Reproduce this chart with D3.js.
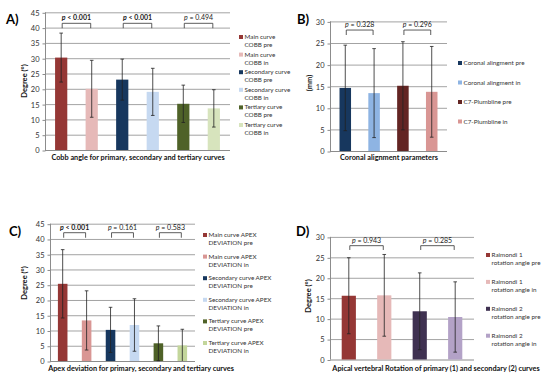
<!DOCTYPE html>
<html>
<head>
<meta charset="utf-8">
<script src="https://cdn.jsdelivr.net/npm/d3@7"></script>
<style>
  body { margin: 0; background: #fff; }
  svg { display: block; font-family: Lato, "Open Sans", sans-serif; }
</style>
</head>
<body>
<div id="chart"></div>
<script>
// ---- data ----
var cobbLegend = [["Main curve", "COBB pre"], ["Main curve", "COBB in"], ["Secondary curve", "COBB pre"],
  ["Secondary curve", "COBB in"], ["Tertiary curve", "COBB pre"], ["Tertiary curve", "COBB in"]];
var cobbMean = [30.2, 20.0, 23.0, 19.0, 15.1, 13.6];
var cobbSD = [8.0, 9.3, 6.7, 7.7, 6.1, 6.1];
var cobbP = ["< 0.001", "< 0.001", "= 0.494"];
var cobbPBold = [true, true, false];

var coronalLegend = [["Coronal alingment pre"], ["Coronal alingment in"], ["C7-Plumbline pre"], ["C7-Plumbline in"]];
var coronalMean = [14.6, 13.4, 15.1, 13.7];
var coronalSD = [9.9, 10.3, 10.2, 10.5];
var coronalP = ["= 0.328", "= 0.296"];
var coronalPBold = [false, false];

var apexLegend = [["Main curve APEX", "DEVIATION pre"], ["Main curve APEX", "DEVIATION in"],
  ["Secondary curve APEX", "DEVIATION pre"], ["Secondary curve APEX", "DEVIATION in"],
  ["Tertiary curve APEX", "DEVIATION pre"], ["Tertiary curve APEX", "DEVIATION in"]];
var apexMean = [25.3, 13.3, 10.2, 11.8, 5.8, 5.1];
var apexSD = [11.2, 9.7, 7.4, 8.6, 5.7, 5.3];
var apexP = ["< 0.001", "= 0.161", "= 0.583"];
var apexPBold = [true, false, false];

var raimondiLegend = [["Raimondi 1", "rotation angle pre"], ["Raimondi 1", "rotation angle in"],
  ["Raimondi 2", "rotation angle pre"], ["Raimondi 2", "rotation angle in"]];
var raimondiMean = [15.6, 15.7, 11.8, 10.4];
var raimondiSD = [9.3, 10.0, 9.4, 8.6];
var raimondiP = ["= 0.943", "= 0.285"];
var raimondiPBold = [false, false];

var ticks45 = d3.range(0, 46, 5);
var ticks30 = d3.range(0, 31, 5);

var svg = d3.select("#chart").append("svg")
  .attr("width", 550)
  .attr("height", 376);

function drawPanel(p) {
  var g = svg.append("g");
  var n = p.mean.length;

  var x = d3.scaleBand()
    .domain(d3.range(n))
    .range([p.x0, p.x1])
    .paddingInner(0.6)
    .paddingOuter(0.33);

  var y = d3.scaleLinear()
    .domain([0, p.max])
    .range([p.y0, p.y1]);

  // gridlines
  g.selectAll(".grid")
    .data(p.ticks.slice(1))
    .join("line")
    .attr("x1", p.x0)
    .attr("x2", p.x1)
    .attr("y1", d => y(d) + 0.5)
    .attr("y2", d => y(d) + 0.5)
    .attr("stroke", "#8c8c8c")
    .attr("stroke-width", 0.8);

  // y axis
  var yAxis = d3.axisLeft(y).tickValues(p.ticks).tickSize(3).tickPadding(3);
  var ax = g.append("g")
    .attr("transform", "translate(" + (p.x0 + 0.5) + ",0.5)")
    .call(yAxis);
  ax.select(".domain").attr("stroke", "#8c8c8c").attr("d", "M0," + (p.y0 - 0.5) + "V" + (p.y1 - 0.5));
  ax.selectAll(".tick line").attr("stroke", "#8c8c8c");
  ax.selectAll(".tick text").attr("font-size", 7.5).attr("fill", "#333").attr("font-family", "Lato");

  // x axis baseline
  g.append("line")
    .attr("x1", p.x0).attr("x2", p.x1)
    .attr("y1", p.y0 + 0.5).attr("y2", p.y0 + 0.5)
    .attr("stroke", "#8c8c8c");

  // bars
  g.selectAll(".bar")
    .data(p.mean)
    .join("rect")
    .attr("x", (d, i) => x(i))
    .attr("width", x.bandwidth())
    .attr("y", d => y(d))
    .attr("height", d => y(0) - y(d))
    .attr("fill", (d, i) => p.colors[i]);

  // error bars
  var eb = g.selectAll(".err")
    .data(p.mean)
    .join("g")
    .attr("stroke", "#222")
    .attr("stroke-width", 0.8);
  var cx = i => x(i) + x.bandwidth() / 2;
  eb.append("line")
    .attr("x1", (d, i) => cx(i)).attr("x2", (d, i) => cx(i))
    .attr("y1", (d, i) => y(Math.max(0, d - p.sd[i])))
    .attr("y2", (d, i) => y(d + p.sd[i]));
  eb.append("line")
    .attr("x1", (d, i) => cx(i) - 1.8).attr("x2", (d, i) => cx(i) + 1.8)
    .attr("y1", (d, i) => y(d + p.sd[i])).attr("y2", (d, i) => y(d + p.sd[i]));
  eb.filter((d, i) => d - p.sd[i] > 0)
    .append("line")
    .attr("x1", (d, i) => cx(i) - 1.8).attr("x2", (d, i) => cx(i) + 1.8)
    .attr("y1", (d, i) => y(d - p.sd[i])).attr("y2", (d, i) => y(d - p.sd[i]));

  // significance brackets
  var br = g.selectAll(".bracket")
    .data(p.pvals)
    .join("g");
  br.append("path")
    .attr("fill", "none")
    .attr("stroke", "#333")
    .attr("stroke-width", 0.8)
    .attr("d", (d, i) => {
      var a = cx(2 * i) + 1, b = cx(2 * i + 1) - 1;
      var top = y(p.brTop), bot = y(p.brBot);
      return "M" + a + "," + bot + "V" + top + "H" + b + "V" + bot;
    });
  var pt = br.append("text")
    .attr("x", (d, i) => (cx(2 * i) + cx(2 * i + 1)) / 2)
    .attr("y", y(p.brTop) - 3)
    .attr("text-anchor", "middle")
    .attr("font-size", 7)
    .attr("fill", "#222")
    .attr("font-weight", (d, i) => p.pBold[i] ? "bold" : "normal");
  pt.append("tspan").attr("font-style", "italic").text("p");
  pt.append("tspan").text(d => " " + d);

  // y title
  g.append("text")
    .attr("transform", "translate(" + p.ytX + "," + p.ytY + ") rotate(-90)")
    .attr("text-anchor", "middle")
    .attr("font-size", 7.5)
    .attr("font-weight", "bold")
    .attr("fill", "#111")
    .text(p.yTitle);

  // x title
  g.append("text")
    .attr("x", p.titleX)
    .attr("y", p.titleY)
    .attr("text-anchor", "middle")
    .attr("font-size", 7.3)
    .attr("font-weight", "bold")
    .attr("fill", "#111")
    .text(p.title);

  // panel letter
  g.append("text")
    .attr("x", p.labX)
    .attr("y", p.labY)
    .attr("font-size", 13)
    .attr("font-weight", "bold")
    .attr("fill", "#000")
    .text(p.label);

  // legend
  var lg = g.selectAll(".leg")
    .data(p.legend)
    .join("g")
    .attr("transform", (d, i) => "translate(" + p.legX + "," + (p.legY + i * p.legStep) + ")");
  lg.append("rect")
    .attr("x", 0).attr("y", -4)
    .attr("width", 4).attr("height", 4)
    .attr("fill", (d, i) => p.colors[i]);
  lg.selectAll("text")
    .data(d => d)
    .join("text")
    .attr("x", 5.5)
    .attr("y", (d, j) => j * 8)
    .attr("font-size", 6.3)
    .attr("fill", "#333")
    .text(d => d);
}

drawPanel({
  label: "A)", labX: 6, labY: 24,
  x0: 45, x1: 230, y0: 150, y1: 12.3, max: 45, ticks: ticks45,
  mean: cobbMean, sd: cobbSD, pvals: cobbP, pBold: cobbPBold, brTop: 41.4, brBot: 39.8,
  colors: ["#953735", "#e6b9b8", "#17375e", "#c6d9f1", "#4f6228", "#d7e4bd"],
  yTitle: "Degree (°)", ytX: 27, ytY: 81,
  title: "Cobb angle for primary, secondary and tertiary curves", titleX: 138, titleY: 159.5,
  legend: cobbLegend, legX: 239, legY: 39, legStep: 17.6
});

drawPanel({
  label: "B)", labX: 297, labY: 24,
  x0: 330, x1: 447, y0: 151, y1: 21.4, max: 30, ticks: ticks30,
  mean: coronalMean, sd: coronalSD, pvals: coronalP, pBold: coronalPBold, brTop: 28.0, brBot: 26.85,
  colors: ["#17375e", "#8eb4e3", "#632523", "#d99694"],
  yTitle: "(mm)", ytX: 312, ytY: 83,
  title: "Coronal alignment parameters", titleX: 389, titleY: 159.5,
  legend: coronalLegend, legX: 458, legY: 65, legStep: 19.5
});

drawPanel({
  label: "C)", labX: 9, labY: 236,
  x0: 50, x1: 195, y0: 361, y1: 223.7, max: 45, ticks: ticks45,
  mean: apexMean, sd: apexSD, pvals: apexP, pBold: apexPBold, brTop: 42.05, brBot: 40.4,
  colors: ["#953735", "#d99694", "#17375e", "#c6d9f1", "#4f6228", "#c3d69b"],
  yTitle: "Degree (°)", ytX: 27, ytY: 283,
  title: "Apex deviation for primary, secondary and tertiary curves", titleX: 141, titleY: 370.5,
  legend: apexLegend, legX: 203, legY: 237, legStep: 21.6
});

drawPanel({
  label: "D)", labX: 296, labY: 236,
  x0: 330, x1: 474, y0: 359.5, y1: 236.9, max: 30, ticks: ticks30,
  mean: raimondiMean, sd: raimondiSD, pvals: raimondiP, pBold: raimondiPBold, brTop: 27.85, brBot: 26.8,
  colors: ["#953735", "#e6b9b8", "#3f3151", "#b3a2c7"],
  yTitle: "Degree (°)", ytX: 311, ytY: 296,
  title: "Apical vertebral Rotation of primary (1) and secondary (2) curves", titleX: 436, titleY: 371,
  legend: raimondiLegend, legX: 486, legY: 257, legStep: 26.9
});
</script>
</body>
</html>
